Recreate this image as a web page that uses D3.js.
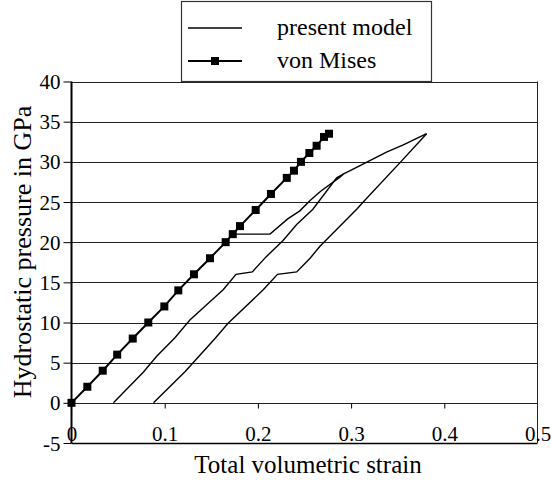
<!DOCTYPE html>
<html>
<head>
<meta charset="utf-8">
<script src="https://cdn.jsdelivr.net/npm/d3@7"></script>
<style>
  body { margin: 0; background: #fff; }
</style>
</head>
<body>
<script>
// von Mises (markers)
const misesX = [0, 0.017, 0.0335, 0.049, 0.0657, 0.0824, 0.0996, 0.1146, 0.1314, 0.1486, 0.1654,
  0.173, 0.1808, 0.1976, 0.214, 0.231, 0.2387, 0.2462, 0.2552, 0.263, 0.2709, 0.2763]
const misesY = [0, 2, 4, 6, 8, 10, 12, 14, 16, 18, 20, 21, 22, 24, 26, 28, 28.9, 30, 31.1, 32, 33.1, 33.5]

// present model, three branches
const branchAX = [0.173, 0.213, 0.232, 0.245, 0.256, 0.267, 0.288, 0.292]
const branchAY = [21, 21, 22.9, 23.9, 25.2, 26.3, 28.1, 28.5]
const branchBX = [0.045, 0.077, 0.0914, 0.111, 0.127, 0.145, 0.163, 0.1765, 0.194, 0.209, 0.227,
  0.2416, 0.259, 0.2845, 0.292, 0.299, 0.3185, 0.338, 0.356, 0.381]
const branchBY = [0, 3.8, 5.8, 8.1, 10.3, 12.2, 14.1, 16, 16.3, 18.2, 20.2,
  22.2, 24.1, 28, 28.5, 28.9, 30.05, 31.2, 32.1, 33.5]
const branchCX = [0.381, 0.3525, 0.313, 0.306, 0.2666, 0.256, 0.2416, 0.221, 0.206, 0.168, 0.154, 0.122, 0.088]
const branchCY = [33.5, 29.9, 25, 24.1, 19.5, 18, 16.3, 16, 14.1, 9.9, 8, 3.9, 0]

const xTicks = [0, 0.1, 0.2, 0.3, 0.4, 0.5]
const yTicks = [-5, 0, 5, 10, 15, 20, 25, 30, 35, 40]
const legendLabels = ['present model', 'von Mises']

const width = 551
const height = 480
const serif = '"Liberation Serif", "Times New Roman", serif'

const svg = d3.select('body').append('svg')
  .attr('width', width)
  .attr('height', height)

const x = d3.scaleLinear().domain([0, 0.5]).range([71.5, 537.5])
const y = d3.scaleLinear().domain([-5, 40]).range([443, 81.5])

// horizontal grid lines
svg.append('g')
  .selectAll('line')
  .data(yTicks)
  .enter()
  .append('line')
  .attr('x1', x(0))
  .attr('x2', x(0.5))
  .attr('y1', d => Math.round(y(d)) + 0.5)
  .attr('y2', d => Math.round(y(d)) + 0.5)
  .attr('stroke', d => d == -5 ? '#000' : '#222')
  .attr('stroke-width', d => d == -5 ? 1.5 : 1)

// right border
svg.append('line')
  .attr('x1', x(0.5)).attr('x2', x(0.5))
  .attr('y1', y(40)).attr('y2', y(-5))
  .attr('stroke', '#222')

// y axis
const yAxis = d3.axisLeft(y).tickValues(yTicks).tickSize(8).tickPadding(3).tickSizeOuter(0)
  .tickFormat(d => String(d))
svg.append('g')
  .attr('transform', `translate(${x(0)},0)`)
  .call(yAxis)
  .call(g => g.select('.domain').remove())
  .call(g => g.selectAll('text').attr('font-size', 21).attr('fill', '#000').attr('dy', '0.34em'))
svg.append('line')
  .attr('x1', x(0)).attr('x2', x(0))
  .attr('y1', y(40)).attr('y2', y(-5))
  .attr('stroke', '#000').attr('stroke-width', 2)

// x axis ticks at y = 0
svg.append('g')
  .attr('transform', `translate(0,${Math.round(y(0)) + 0.5})`)
  .call(d3.axisBottom(x).tickValues(xTicks.slice(1, 5)).tickSize(5).tickFormat(''))
  .call(g => g.select('.domain').remove())

// x tick labels sitting on the bottom border
svg.append('g')
  .attr('transform', `translate(0,${y(-5)})`)
  .call(d3.axisBottom(x).tickValues(xTicks).tickSize(0).tickFormat(d => String(d)))
  .call(g => g.select('.domain').remove())
  .call(g => g.selectAll('text').attr('font-size', 21).attr('fill', '#000').attr('y', -2).attr('dy', 0))

// present model
const line = d3.line().x(d => x(d[0])).y(d => y(d[1]))
const branches = [[branchAX, branchAY], [branchBX, branchBY], [branchCX, branchCY]]
svg.append('g')
  .selectAll('path')
  .data(branches.map(b => b[0].map((v, i) => [v, b[1][i]])))
  .enter()
  .append('path')
  .attr('d', line)
  .attr('fill', 'none')
  .attr('stroke', '#000')
  .attr('stroke-width', 1.4)

// von Mises
const mises = misesX.map((v, i) => [v, misesY[i]])
svg.append('path')
  .attr('d', line(mises))
  .attr('fill', 'none')
  .attr('stroke', '#000')
  .attr('stroke-width', 2)
svg.append('g')
  .selectAll('rect')
  .data(mises)
  .enter()
  .append('rect')
  .attr('x', d => x(d[0]) - 4)
  .attr('y', d => y(d[1]) - 4)
  .attr('width', 8)
  .attr('height', 8)
  .attr('fill', '#000')

// axis titles
svg.append('text')
  .attr('x', 308)
  .attr('y', 473)
  .attr('text-anchor', 'middle')
  .attr('font-size', 25)
  .text('Total volumetric strain')

svg.append('text')
  .attr('transform', 'translate(31,252) rotate(-90)')
  .attr('text-anchor', 'middle')
  .attr('font-size', 26)
  .text('Hydrostatic pressure in GPa')

// legend
const legend = svg.append('g')
legend.append('rect')
  .attr('x', 181.5).attr('y', 1.5)
  .attr('width', 250).attr('height', 80)
  .attr('fill', '#fff')
  .attr('stroke', '#333')
  .attr('stroke-width', 1.2)

const legendY = [28, 61]
legendLabels.forEach((label, i) => {
  legend.append('line')
    .attr('x1', 188).attr('x2', 242)
    .attr('y1', legendY[i]).attr('y2', legendY[i])
    .attr('stroke', '#000')
    .attr('stroke-width', i == 0 ? 1.4 : 2)
  if (i == 1) {
    legend.append('rect')
      .attr('x', 211).attr('y', legendY[i] - 4)
      .attr('width', 8).attr('height', 8)
      .attr('fill', '#000')
  }
  legend.append('text')
    .attr('x', 277)
    .attr('y', legendY[i] + 6.5)
    .attr('font-size', 24)
    .text(label)
})

svg.selectAll('text').style('font-family', serif)
</script>
</body>
</html>
